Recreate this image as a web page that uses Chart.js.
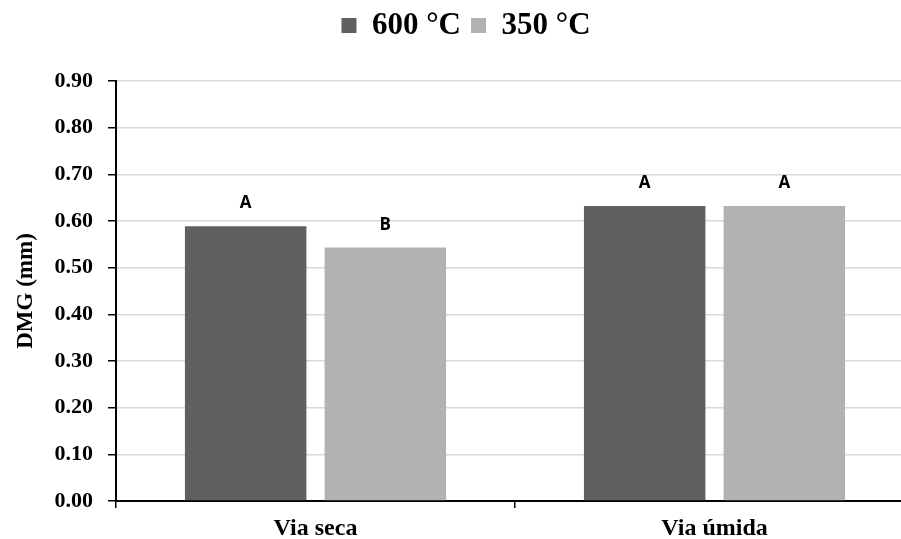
<!DOCTYPE html>
<html>
<head>
<meta charset="utf-8">
<script src="https://cdn.jsdelivr.net/npm/chart.js@4/dist/chart.umd.min.js"></script>
<style>
  html, body { margin: 0; padding: 0; background: #fff; overflow: hidden; }
  #wrap { width: 930px; height: 539px; }
</style>
</head>
<body>
<div id="wrap"><canvas id="c"></canvas></div>
<script>
// Mean geometric diameter by preparation route and temperature
const categories = ['Via seca', 'Via úmida'];
const seriesNames = ['600 °C', '350 °C'];
const values600 = [0.589, 0.632];
const values350 = [0.543, 0.632];
const letters600 = ['A', 'A'];
const letters350 = ['B', 'A'];
const yTicks = [0, 0.1, 0.2, 0.3, 0.4, 0.5, 0.6, 0.7, 0.8, 0.9];

const serif = "'Liberation Serif', 'Times New Roman', serif";

// Leaves extra room below the legend before the plot starts
const legendSpacer = {
  id: 'legendSpacer',
  beforeLayout(chart) {
    const lg = chart.legend;
    if (lg && !lg.__spaced) {
      const fit = lg.fit;
      lg.fit = function () { fit.call(this); this.height += 30; };
      lg.__spaced = true;
    }
  }
};

// Draws the significance letters above each bar
const letterPlugin = {
  id: 'letters',
  afterDatasetsDraw(chart) {
    const ctx = chart.ctx;
    const sets = [letters600, letters350];
    ctx.save();
    ctx.font = "bold 17px 'Open Sans', 'Liberation Sans', sans-serif";
    ctx.fillStyle = '#000';
    ctx.textAlign = 'center';
    ctx.textBaseline = 'alphabetic';
    sets.forEach((arr, di) => {
      chart.getDatasetMeta(di).data.forEach((bar, i) => {
        ctx.fillText(arr[i], bar.x, bar.y - 18);
      });
    });
    ctx.restore();
  }
};

new Chart(document.getElementById('c'), {
  type: 'bar',
  data: {
    labels: categories,
    datasets: [
      { label: seriesNames[0], data: values600, backgroundColor: '#606060', borderWidth: 0 },
      { label: seriesNames[1], data: values350, backgroundColor: '#b2b2b2', borderWidth: 0 }
    ]
  },
  options: {
    responsive: true,
    maintainAspectRatio: false,
    animation: false,
    layout: { padding: { left: 18, right: 16, top: 0, bottom: 0 } },
    datasets: { bar: { categoryPercentage: 0.70, barPercentage: 0.87 } },
    plugins: {
      tooltip: { enabled: false },
      legend: {
        position: 'top',
        labels: {
          font: { family: serif, size: 31, weight: 'bold' },
          color: '#000',
          boxWidth: 15,
          boxHeight: 15,
          padding: 10
        }
      }
    },
    scales: {
      x: {
        offset: true,
        afterFit: s => { s.height = 38; },
        grid: {
          offset: true,
          drawOnChartArea: false,
          color: '#000',
          tickLength: 7,
          lineWidth: 1.5
        },
        border: { color: '#000', width: 2 },
        ticks: {
          font: { family: serif, size: 24, weight: 'bold' },
          color: '#000',
          padding: 6
        }
      },
      y: {
        min: 0,
        max: 0.9,
        afterFit: s => { s.width = 98; },
        afterBuildTicks: s => { s.ticks = yTicks.map(v => ({ value: v })); },
        grid: {
          color: '#d9d9d9',
          lineWidth: 1.5,
          tickColor: '#000',
          tickLength: 8
        },
        border: { color: '#000', width: 2 },
        ticks: {
          font: { family: serif, size: 22, weight: 'bold' },
          color: '#000',
          padding: 15,
          callback: v => v.toFixed(2)
        },
        title: {
          display: true,
          text: 'DMG (mm)',
          font: { family: serif, size: 23, weight: 'bold' },
          color: '#000',
          padding: { top: -6, bottom: 4 }
        }
      }
    }
  },
  plugins: [legendSpacer, letterPlugin]
});
</script>
</body>
</html>
